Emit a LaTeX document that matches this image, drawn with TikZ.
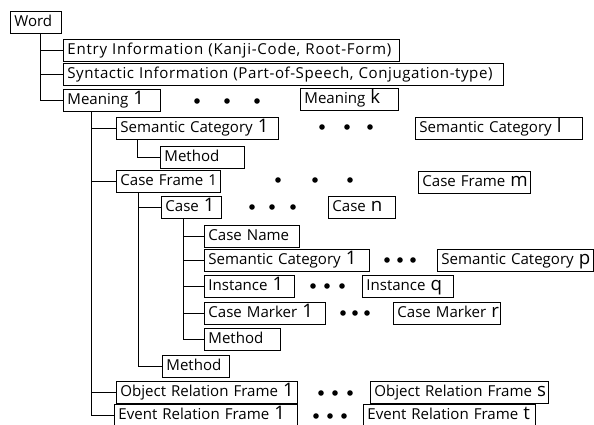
\documentclass[tikz,border=0pt]{standalone}
\usepackage{fontspec}
\setmainfont{Open Sans}
\newcommand{\vn}[1]{{\fontsize{14}{14}\selectfont #1}}

\begin{document}
\begin{tikzpicture}[x=0.75pt,y=-0.75pt,line width=.6pt,
  box/.style={draw,anchor=west,align=left,inner xsep=3pt,inner ysep=0pt,
    text height=9pt,text depth=3pt,minimum height=16.5pt,
    font=\fontsize{11.3}{13}\selectfont,
    execute at begin node=\hbox\bgroup,execute at end node=\egroup},
  dot/.style={fill,circle,inner sep=0pt,minimum size=4.2pt}]
\useasboundingbox (0,0) rectangle (594,425);

\node[box,text width=32.3pt] (word) at (10,22) {Word};
\node[box,text width=246pt] (entry) at (63,50)
  {\addfontfeature{LetterSpace=5}Entry Information (Kanji-Code, Root-Form)};
\node[box,text width=324pt] (syn) at (63,74)
  {\addfontfeature{LetterSpace=3.7}Syntactic Information (Part-of-Speech, Conjugation-type)};
\node[box,text width=66.8pt] (mean1) at (63,100) {Meaning \vn{1}};
\node[box,text width=67.5pt] (meank) at (300,99) {Meaning \vn{k}};

\node[box,text width=115.5pt] (sem1) at (116,128) {Semantic Category \vn{1}};
\node[box,text width=119.3pt] (seml) at (415,128) {Semantic Category \vn{l}};
\node[box,text width=57pt] (semmeth) at (160,157) {Method};

\node[box,text width=72pt] (cf1) at (116,181) {Case Frame 1};
\node[box,text width=78pt] (cfm) at (418,182) {Case Frame \vn{m}};
\node[box,text width=39pt] (case1) at (161,207) {Case \vn{1}};
\node[box,text width=44.3pt] (casen) at (328,207) {Case \vn{n}};

\node[box,text width=65.3pt] (cname) at (204,236) {Case Name};
\node[box,text width=117.8pt] (csem1) at (204,260) {Semantic Category \vn{1}};
\node[box,text width=111pt] (csemp) at (437,260) {Semantic Category \vn{p}};
\node[box,text width=61.5pt] (inst1) at (204,286) {Instance \vn{1}};
\node[box,text width=62.3pt] (instq) at (362,286) {Instance \vn{q}};
\node[box,text width=84.8pt] (cmark1) at (204,313) {Case Marker \vn{1}};
\node[box,text width=74.3pt] (cmarkr) at (393,313) {Case Marker \vn{r}};
\node[box,text width=51pt] (cmeth) at (204,339) {Method};
\node[box,text width=44.3pt] (cfmeth) at (162,366) {Method};

\node[box,text width=129.8pt] (obj1) at (116,392) {Object Relation Frame \vn{1}};
\node[box,text width=127.5pt] (objs) at (370,392) {Object Relation Frame \vn{s}};
\node[box,text width=131.3pt] (ev1) at (114,415) {Event Relation Frame \vn{1}};
\node[box,text width=123pt] (evt) at (363,415) {Event Relation Frame \vn{t}};

% tree lines
\foreach \c in {entry,syn,mean1}
  \draw ([xshift=22.5pt]word.south west) |- (\c.west);
\foreach \c in {sem1,cf1,obj1,ev1}
  \draw ([xshift=21pt]mean1.south west) |- (\c.west);
\draw ([xshift=15.75pt]sem1.south west) |- (semmeth.west);
\foreach \c in {case1,cfmeth}
  \draw ([xshift=16.5pt]cf1.south west) |- (\c.west);
\foreach \c in {cname,csem1,inst1,cmark1,cmeth}
  \draw ([xshift=16.5pt]case1.south west) |- (\c.west);

% dots
\foreach \x in {197,227,257} \node[dot] at (\x,101) {};
\foreach \x in {322,347,370} \node[dot] at (\x,127) {};
\foreach \x in {278,315,350} \node[dot] at (\x,180) {};
\foreach \x in {252,272,293} \node[dot] at (\x,207) {};
\foreach \x in {387,400,413} \node[dot] at (\x,260) {};
\foreach \x in {313,327,342} \node[dot] at (\x,286) {};
\foreach \x in {343,355,367} \node[dot] at (\x,313) {};
\foreach \x in {321,335,350} \node[dot] at (\x,393) {};
\foreach \x in {316,330,344} \node[dot] at (\x,416) {};
\end{tikzpicture}
\end{document}
